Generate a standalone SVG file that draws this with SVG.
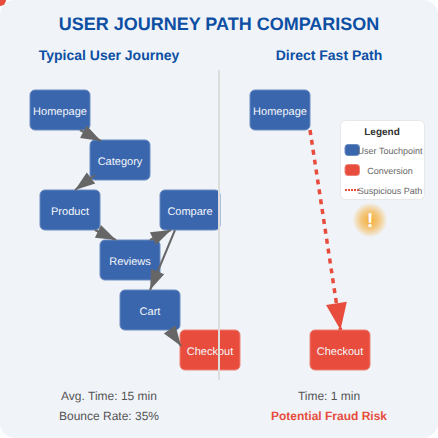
<svg xmlns="http://www.w3.org/2000/svg" width="438" height="438" viewBox="0 0 438 438">
<defs>
<marker id="ag" markerUnits="userSpaceOnUse" markerWidth="20" markerHeight="14" refX="20" refY="7" orient="auto" viewBox="0 0 20 14" overflow="visible"><path d="M0 0L20 7L0 14Z" fill="#666"/></marker>
<marker id="ar" markerUnits="userSpaceOnUse" markerWidth="27" markerHeight="21" refX="27" refY="10.500" orient="auto" viewBox="0 0 27 21" overflow="visible"><path d="M0 0L27 10.500L0 21Z" fill="#e74c3c"/></marker>
<radialGradient id="glow"><stop offset="0.1" stop-color="#f5a623" stop-opacity="0.85"/><stop offset="0.55" stop-color="#f5a623" stop-opacity="0.55"/><stop offset="1" stop-color="#f5a623" stop-opacity="0.05"/></radialGradient>
</defs>
<style>
text{font-family:"Liberation Sans",Arial,sans-serif;text-anchor:middle;text-rendering:geometricPrecision}
.n{stroke-width:1;rx:5px}
.b{fill:#3a66ae;stroke:#6a8bc0}
.r{fill:#e74c3c;stroke:#ee8277}
.l{font-size:11px;fill:#f5f7fb}
.c{stroke:#666;stroke-width:2;fill:none;marker-end:url(#ag)}
.m{font-size:12px;fill:#555}
.g{font-size:9px;fill:#666}
.h{font-size:14px;font-weight:700;fill:#0d4fa3}
</style>
<rect width="438" height="438" fill="#fff"/>
<rect width="438" height="438" rx="15" fill="#f0f4f9"/>
<circle cx="0" cy="0" r="6" fill="#e74c3c"/>
<text x="219" y="30" font-size="18" font-weight="700" fill="#0d4fa3">USER JOURNEY PATH COMPARISON</text>
<text class="h" x="109" y="60">Typical User Journey</text>
<text class="h" x="329" y="60">Direct Fast Path</text>
<g id="homepage1"><rect class="n b" x="30" y="90" width="60" height="40"/><text class="l" x="60" y="115">Homepage</text></g>
<g id="category"><rect class="n b" x="90" y="140" width="60" height="40"/><text class="l" x="120" y="165">Category</text></g>
<g id="product"><rect class="n b" x="40" y="190" width="60" height="40"/><text class="l" x="70" y="215">Product</text></g>
<g id="compare"><rect class="n b" x="160" y="190" width="60" height="40"/><text class="l" x="190" y="215">Compare</text></g>
<g id="reviews"><rect class="n b" x="100" y="240" width="60" height="40"/><text class="l" x="130" y="265">Reviews</text></g>
<g id="cart"><rect class="n b" x="120" y="290" width="60" height="40"/><text class="l" x="150" y="315">Cart</text></g>
<g id="checkout1"><rect class="n r" x="180" y="330" width="60" height="40"/><text class="l" x="210" y="355">Checkout</text></g>
<g id="homepage2"><rect class="n b" x="250" y="90" width="60" height="40"/><text class="l" x="280" y="115">Homepage</text></g>
<g id="checkout2"><rect class="n r" x="310" y="330" width="60" height="40"/><text class="l" x="340" y="355">Checkout</text></g>
<g id="connectors">
<line class="c" x1="80" y1="130" x2="101" y2="141"/>
<line class="c" x1="95" y1="175" x2="75" y2="190"/>
<line class="c" x1="95" y1="230" x2="116" y2="240"/>
<line class="c" x1="150" y1="240" x2="171" y2="230"/>
<line class="c" x1="175" y1="230" x2="150" y2="290"/>
<line class="c" x1="170" y1="330" x2="181" y2="346"/>
<line x1="310" y1="130" x2="340.500" y2="330" stroke="#e74c3c" stroke-width="3.500" stroke-dasharray="5 5" marker-end="url(#ar)"/>
</g>
<line x1="219" y1="70" x2="219" y2="380" stroke="#ddd" stroke-width="2"/>
<g id="legend">
<rect x="340.500" y="120.500" width="84" height="79" rx="5" fill="#fff" stroke="#e8e8e8"/>
<text x="382" y="135" font-size="10" font-weight="700" fill="#333">Legend</text>
<rect class="b" x="345" y="144.500" width="14.500" height="11" rx="3"/><text class="g" x="390" y="153.500">User Touchpoint</text>
<rect class="r" x="345" y="164.500" width="14.500" height="11" rx="3"/><text class="g" x="390" y="173.500">Conversion</text>
<line x1="345" y1="190" x2="360" y2="190" stroke="#e74c3c" stroke-width="2" stroke-dasharray="2 1"/><text class="g" x="390" y="193.500">Suspicious Path</text>
</g>
<g id="warning"><circle cx="370" cy="220" r="17" fill="url(#glow)"/><text x="370" y="227" font-size="20" font-weight="700" fill="#fff">!</text></g>
<text class="m" x="109" y="400">Avg. Time: 15 min</text>
<text class="m" x="109" y="420">Bounce Rate: 35%</text>
<text class="m" x="329" y="400">Time: 1 min</text>
<text x="329" y="420" font-size="12" font-weight="700" fill="#e74c3c">Potential Fraud Risk</text>
</svg>
